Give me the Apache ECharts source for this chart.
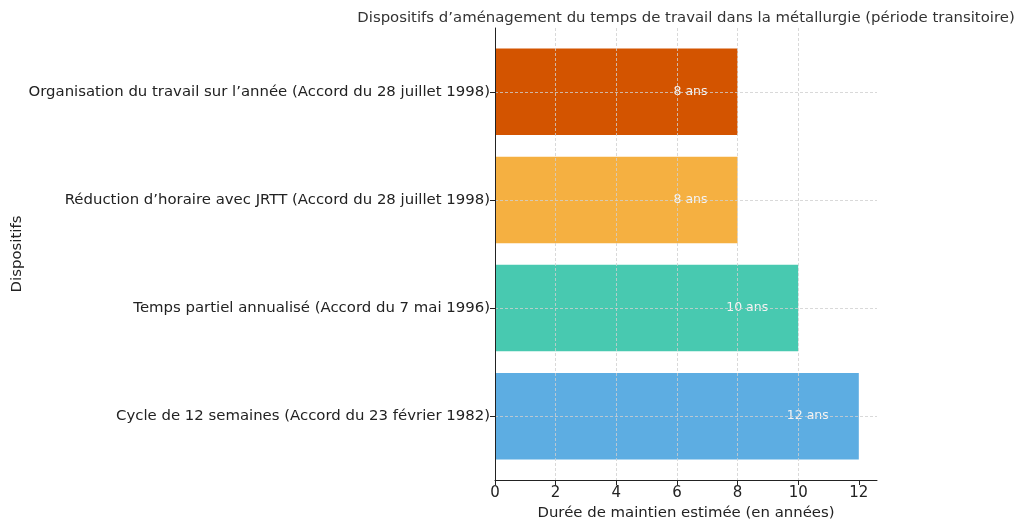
<!DOCTYPE html>
<html>
<head>
<meta charset="utf-8">
<script src="https://cdn.jsdelivr.net/npm/echarts@6/dist/echarts.min.js"></script>
<style>html,body{margin:0;padding:0;background:#fff}#c{width:1024px;height:528px}</style>
</head>
<body>
<div id="c"></div>
<script>
const categories = [
  'Cycle de 12 semaines (Accord du 23 février 1982)',
  'Temps partiel annualisé (Accord du 7 mai 1996)',
  'Réduction d’horaire avec JRTT (Accord du 28 juillet 1998)',
  'Organisation du travail sur l’année (Accord du 28 juillet 1998)'
];
const durations = [12, 10, 8, 8];
const xTicks = [0, 2, 4, 6, 8, 10, 12];
const titleText = 'Dispositifs d’aménagement du temps de travail dans la métallurgie (période transitoire)';
const xTitle = 'Durée de maintien estimée (en années)';
const yTitle = 'Dispositifs';

const palette = ['#5DADE2', '#48C9B0', '#F5B041', '#D35400'];
const font = 'DejaVu Sans';
const chart = echarts.init(document.getElementById('c'), null, {renderer: 'canvas'});

const gridLine = {color: '#cfcfcf', width: 0.8, type: [3, 2]};

chart.setOption({
  animation: false,
  textStyle: {fontFamily: font},
  title: {
    text: titleText,
    left: 681, top: 6, textAlign: 'center',
    textStyle: {fontFamily: font, fontSize: 14.9, fontWeight: 'normal', color: '#333'}
  },
  grid: [
    {left: 495, right: 147, top: 28, bottom: 48},
    {left: 495, right: 147, top: 37.7, bottom: 57.7}
  ],
  xAxis: [
    {
      gridIndex: 0, type: 'value', min: 0, max: 12.6, interval: 2, z: 10,
      name: xTitle, nameLocation: 'middle', nameGap: 24,
      nameTextStyle: {fontFamily: font, fontSize: 14.9, color: '#222'},
      axisLine: {show: true, lineStyle: {color: '#222', width: 1}},
      axisTick: {show: true, length: 5, customValues: xTicks, lineStyle: {color: '#222'}},
      axisLabel: {show: true, margin: 6, fontSize: 15, color: '#222', fontFamily: font, customValues: xTicks},
      splitLine: {show: true, showMinLine: false, showMaxLine: false, lineStyle: gridLine}
    },
    {
      gridIndex: 1, type: 'value', min: 0, max: 12.6,
      axisLine: {show: false}, axisTick: {show: false}, axisLabel: {show: false}, splitLine: {show: false}
    }
  ],
  yAxis: [
    {
      gridIndex: 0, type: 'value', min: 0, max: 1, z: 10,
      name: yTitle, nameLocation: 'middle', nameGap: 470, nameRotate: 90,
      nameTextStyle: {fontFamily: font, fontSize: 14.9, color: '#222'},
      axisLine: {show: true, lineStyle: {color: '#222', width: 1}},
      axisTick: {show: false}, axisLabel: {show: false}, splitLine: {show: false}
    },
    {
      gridIndex: 1, type: 'category', data: categories,
      axisLine: {show: false},
      axisTick: {show: true, alignWithLabel: true, length: 5, lineStyle: {color: '#222'}},
      axisLabel: {show: true, margin: 5, fontSize: 14.9, color: '#222', fontFamily: font},
      splitLine: {show: false}
    }
  ],
  series: [{
    type: 'bar',
    xAxisIndex: 1, yAxisIndex: 1,
    barWidth: '80%',
    data: durations.map((v, i) => ({value: v, itemStyle: {color: palette[i]}})),
    label: {
      show: true, position: 'insideRight', distance: 30,
      formatter: p => p.value + ' ans',
      fontFamily: font, fontSize: 12.5, color: '#f4f4f4'
    },
    markLine: {
      silent: true, symbol: 'none', z: 5,
      label: {show: false},
      lineStyle: gridLine,
      data: categories.map(c => ({yAxis: c}))
    }
  }]
});
</script>
</body>
</html>
